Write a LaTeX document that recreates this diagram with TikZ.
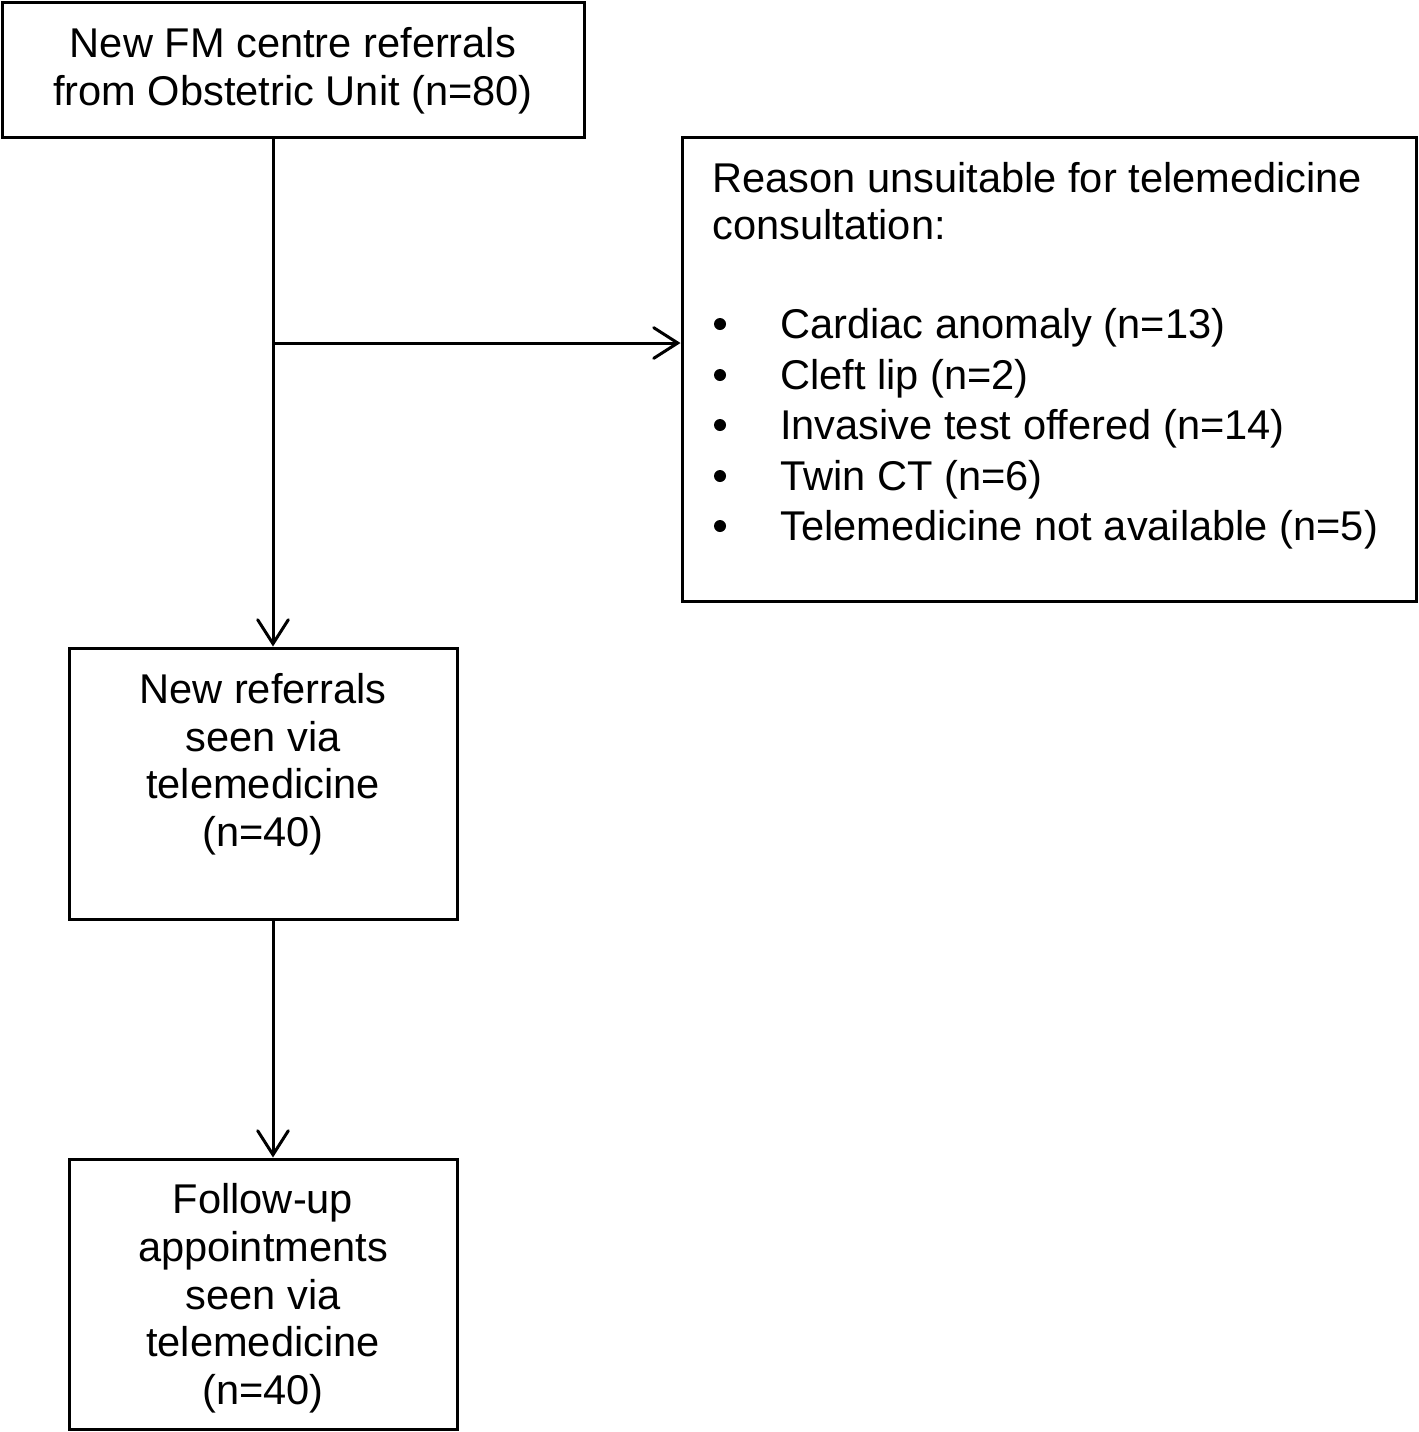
\documentclass[tikz,border=0pt]{standalone}
\usepackage{fontspec}
\setmainfont{Liberation Sans}
\usetikzlibrary{arrows.meta}
\begin{document}
\begin{tikzpicture}[x=0.75pt,y=-0.75pt,
  box/.style={draw,line width=2.25pt,inner sep=0pt},
  txt/.style={inner sep=0pt,font=\fontsize{31.2pt}{36pt}\selectfont},
  bul/.style={circle,fill,inner sep=0pt,minimum size=9pt},
  arr/.style={line width=2.25pt,-{Straight Barb[length=18pt,width=23pt,line cap=round]}}]
\useasboundingbox (0,0) rectangle (1418,1432);
% boxes
\node[box,minimum width=582*0.75pt,minimum height=135*0.75pt] (b1) at (293,69.5) {};
\node[box,minimum width=734*0.75pt,minimum height=464*0.75pt] (b2) at (1049,369) {};
\node[box,minimum width=388*0.75pt,minimum height=271*0.75pt] (b3) at (263,783.5) {};
\node[box,minimum width=388*0.75pt,minimum height=270*0.75pt] (b4) at (263,1294) {};
% box 1 text
\node[txt,anchor=base] (t1a) at (293,57) {New FM centre referrals};
\node[txt,anchor=base] (t1b) at (293,105) {from Obstetric Unit (n=80)};
% box 2 text
\node[txt,anchor=base west] (t2a) at (712,192) {Reason unsuitable for telemedicine};
\node[txt,anchor=base west] (t2b) at (712,239) {consultation:};
\node[bul] (d1) at (720,324) {};
\node[bul] (d2) at (720,375) {};
\node[bul] (d3) at (720,425) {};
\node[bul] (d4) at (720,476) {};
\node[bul] (d5) at (720,526) {};
\node[txt,anchor=base west] (i1) at (780,338) {Cardiac anomaly (n=13)};
\node[txt,anchor=base west] (i2) at (780,389) {Cleft lip (n=2)};
\node[txt,anchor=base west] (i3) at (780,439) {Invasive test offered (n=14)};
\node[txt,anchor=base west] (i4) at (780,490) {Twin CT (n=6)};
\node[txt,anchor=base west] (i5) at (780,540) {Telemedicine not available (n=5)};
% box 3 text
\node[txt,anchor=base] (t3a) at (263,703) {New referrals};
\node[txt,anchor=base] (t3b) at (263,751) {seen via};
\node[txt,anchor=base] (t3c) at (263,798) {telemedicine};
\node[txt,anchor=base] (t3d) at (263,846) {(n=40)};
% box 4 text
\node[txt,anchor=base] (t4a) at (263,1213) {Follow-up};
\node[txt,anchor=base] (t4b) at (263,1261) {appointments};
\node[txt,anchor=base] (t4c) at (263,1309) {seen via};
\node[txt,anchor=base] (t4d) at (263,1356) {telemedicine};
\node[txt,anchor=base] (t4e) at (263,1404) {(n=40)};
% connectors
\coordinate (trunk) at (273,0);
\coordinate (br) at (273,343);
\draw[arr] (b1.south -| trunk) -- (b3.north -| trunk);
\draw[arr] (br) -- (br -| b2.west);
\draw[arr] (b3.south -| trunk) -- (b4.north -| trunk);
\end{tikzpicture}
\end{document}
